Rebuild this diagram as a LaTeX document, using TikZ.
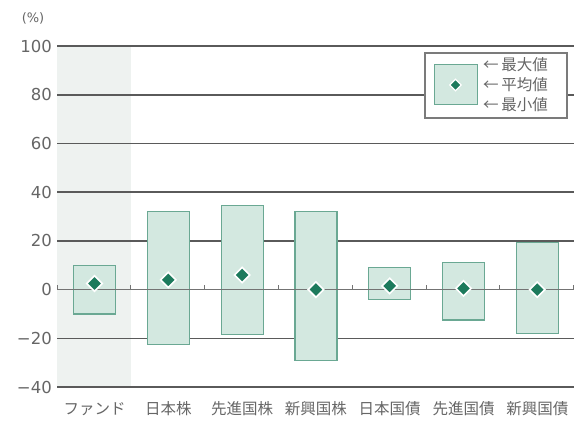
\documentclass[tikz,border=0pt]{standalone}
\usepackage{fontspec}
\setmainfont{DejaVu Sans}
\newfontfamily\jp{Noto Sans CJK JP}
\usetikzlibrary{shapes.geometric}
\definecolor{txt}{HTML}{666666}
\definecolor{gridc}{HTML}{5A5A5A}
\definecolor{shadec}{HTML}{EEF2F0}
\definecolor{boxfill}{HTML}{D3E8E0}
\definecolor{boxline}{HTML}{6AA893}
\definecolor{dgreen}{HTML}{1C7A5C}
\tikzset{
  gridline/.style={draw=gridc, line width=1.6pt},
  rangebox/.style={fill=boxfill, draw=boxline, line width=1.2pt},
  meanmark/.style={diamond, fill=dgreen, draw=white, line width=1.6pt, minimum size=16pt, inner sep=0pt},
  ylab/.style={text=txt, font=\fontsize{16.5}{16.5}\selectfont, anchor=east, inner sep=0pt},
  catlab/.style={text=txt, font=\jp\fontsize{15.5}{15.5}\selectfont, inner sep=0pt},
  leglab/.style={text=txt, font=\jp\fontsize{15.5}{15.5}\selectfont, anchor=west, inner sep=0pt}
}
\newcommand{\yv}[1]{289.6-2.4357*(#1)}
\begin{document}
\begin{tikzpicture}[x=1pt,y=-1pt]
\useasboundingbox (0,0) rectangle (574,421);
% shaded fund column
\fill[shadec] (57,46) rectangle (131,387);
% grid lines
\foreach \v in {100,80,60,40,20,-20,-40}{
  \draw[gridline] (57,{\yv{\v}}) -- (574,{\yv{\v}});
}
% y labels
\foreach \v/\t in {100/100,80/80,60/60,40/40,20/20,0/0,-20/−20,-40/−40}{
  \node[ylab] (y\v) at (52,{\yv{\v}}) {\t};
}
\node[text=txt, font=\fontsize{13}{13}\selectfont, inner sep=0pt] (pct) at (33,18.5) {(\%)};
% range boxes
\foreach \i/\top/\bot in {0/10/-10,1/32/-22.5,2/34.5/-18.5,3/32/-29,4/9/-4,5/11/-12.5,6/19.5/-18}{
  \pgfmathsetmacro{\cx}{94.5+73.8*\i}
  \draw[rangebox] ({\cx-21},{\yv{\top}}) rectangle ({\cx+21},{\yv{\bot}});
}
% zero line with ticks
\draw[draw=gridc!85, line width=1.3pt] (57,{\yv{0}}) -- (574,{\yv{0}});
\foreach \k in {0,...,7}{
  \draw[draw=gridc!85, line width=1pt] ({57+73.8*\k},{\yv{0}}) -- ({57+73.8*\k},{\yv{0}-5});
}
% mean markers
\foreach \i/\m in {0/2.5,1/4,2/6,3/0,4/1.5,5/0.5,6/0}{
  \pgfmathsetmacro{\cx}{94.5+73.8*\i}
  \node[meanmark] (m\i) at (\cx,{\yv{\m}}) {};
}
% category labels
\foreach \i/\t in {0/ファンド,1/日本株,2/先進国株,3/新興国株,4/日本国債,5/先進国債,6/新興国債}{
  \pgfmathsetmacro{\cx}{94.5+73.8*\i}
  \node[catlab] (c\i) at (\cx,409) {\t};
}
% legend
\draw[fill=white, draw=gridc!80, line width=1.2pt] (425,53) rectangle (567,118);
\draw[fill=boxfill, draw=boxline, line width=1pt] (434,64) rectangle (477,104);
\node[meanmark, minimum size=12pt, line width=1.2pt] (lm) at (455.5,85) {};
\node[leglab] (l1) at (483,65) {←\,最大値};
\node[leglab] (l2) at (483,85) {←\,平均値};
\node[leglab] (l3) at (483,105) {←\,最小値};
\end{tikzpicture}
\end{document}
